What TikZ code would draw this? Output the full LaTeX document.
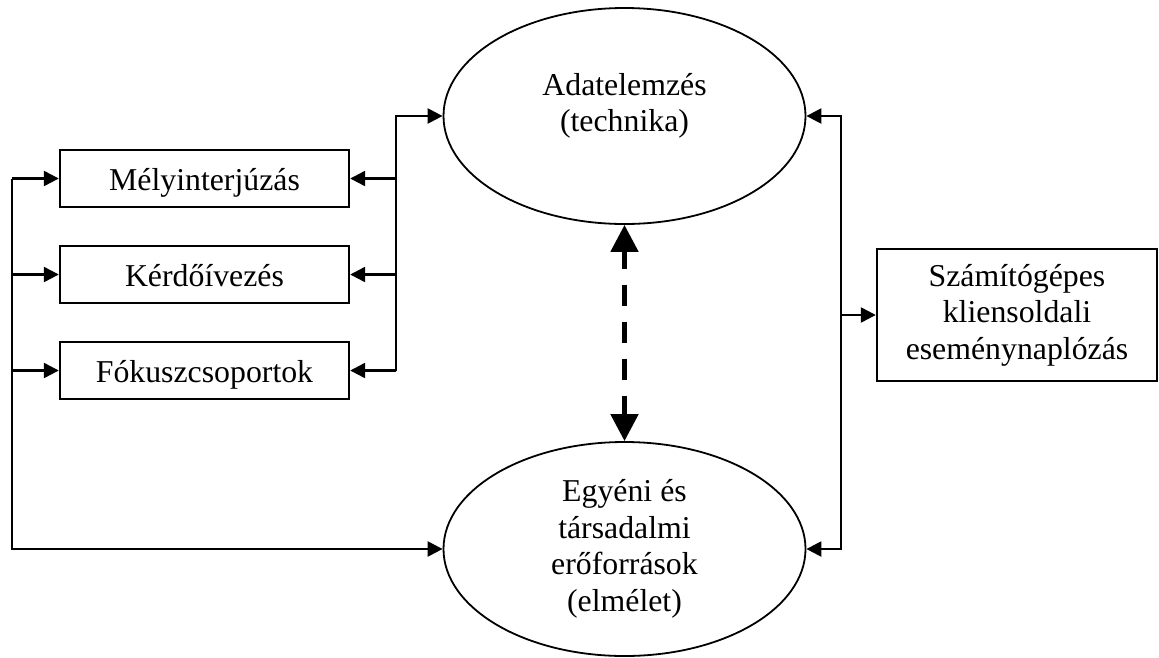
\documentclass[tikz,border=0pt]{standalone}
\usepackage{fontspec}
\setmainfont{Liberation Serif}
\usetikzlibrary{arrows.meta,shapes.geometric}
\begin{document}
\begin{tikzpicture}[x=1pt,y=-1pt,
  every node/.style={font=\fontsize{31.8}{36.5}\selectfont},
  boxnode/.style={draw, line width=2.4pt, inner sep=0pt, align=center},
  onebox/.style={boxnode, minimum width=289pt, minimum height=57pt, text height=30pt, text depth=7pt},
  ellnode/.style={draw, ellipse, line width=1.8pt, inner sep=0pt, minimum width=362pt, align=center},
  arr/.style={-{Triangle[length=15pt,width=15pt]}, line width=2.4pt},
  dasharr/.style={{Triangle[length=27pt,width=27pt]}-{Triangle[length=27pt,width=27pt]}, line width=5pt, dash pattern=on 21pt off 16pt, dash phase=3pt}
]
\useasboundingbox (0,0) rectangle (1159,657);

\node[ellnode, minimum height=216pt] (adat) at (624.5,116) {};
\node[inner sep=0pt, align=center] (adattext) at (624.5,106) {Adatelemzés\\(technika)};
\node[ellnode, minimum height=214pt] (egy) at (624.5,549) {Egyéni és\\társadalmi\\erőforrások\\(elmélet)};

\node[onebox] (mely) at (204.5,178.5) {Mélyinterjúzás};
\node[onebox] (kerd) at (204.5,274.5) {Kérdőívezés};
\node[onebox] (fok) at (204.5,370.5) {Fókuszcsoportok};
\node[boxnode, minimum width=280pt, minimum height=132pt] (szam) at (1017,315) {Számítógépes\\kliensoldali\\eseménynaplózás};

\coordinate (lt) at (12,178.5);
\coordinate (mt) at (396,116);
\coordinate (rt) at (841,116);

% left bus
\draw[arr] (lt) |- (egy.west);
\draw[arr] (lt) -- (mely.west);
\draw[arr] (lt |- kerd.west) -- (kerd.west);
\draw[arr] (lt |- fok.west) -- (fok.west);

% middle bus
\draw[arr] (mt |- fok.east) -- (mt) -- (adat.west);
\draw[arr] (mt |- mely.east) -- (mely.east);
\draw[arr] (mt |- kerd.east) -- (kerd.east);
\draw[arr] (mt |- fok.east) -- (fok.east);

% right bus
\draw[arr] (rt |- szam.west) |- (adat.east);
\draw[arr] (rt |- szam.west) |- (egy.east);
\draw[arr] (rt |- szam.west) -- (szam.west);

% dashed link
\draw[dasharr] (adat.south) -- (egy.north);
\end{tikzpicture}
\end{document}
